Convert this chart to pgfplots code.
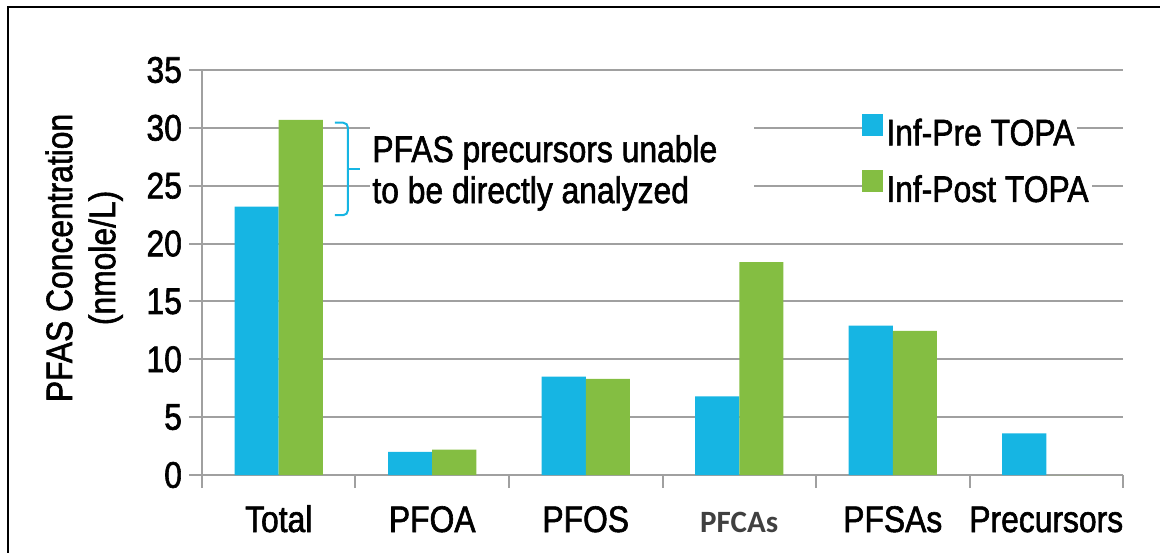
\documentclass[border=0pt]{standalone}
\usepackage{fontspec}
\setmainfont{Liberation Sans}[FakeStretch=0.86, FakeBold=1.6]
\newfontfamily\calfont{Carlito}
\usepackage{pgfplots}
\pgfplotsset{compat=1.18}

\definecolor{preblue}{RGB}{22,181,227}
\definecolor{postgreen}{RGB}{132,190,66}
\definecolor{gridgray}{RGB}{160,160,160}
\newcommand\cf{\fontsize{18.5pt}{21.5pt}\selectfont}

\begin{document}
\begin{tikzpicture}
\path[use as bounding box] (-101pt,-38.5pt) rectangle (479pt,237.5pt);
\draw[line width=1pt] (-97pt,-40pt) -- (-97pt,234pt) -- (480pt,234pt);
\begin{axis}[
    at={(0,0)}, anchor=south west,
    scale only axis,
    width=460.5pt, height=202.5pt,
    ybar=0pt, bar width=22pt,
    xmin=-0.5, xmax=5.5,
    ymin=0, ymax=35,
    ytick={0,5,...,35},
    xtick={-0.5,0.5,...,5.5},
    xticklabels={},
    extra x ticks={0,1,2,3,4,5},
    extra x tick labels={Total,PFOA,PFOS,{\calfont\bfseries\fontsize{15.5pt}{18pt}\selectfont\color{black!75}PFCAs},PFSAs,Precursors},
    extra x tick style={major tick length=0pt, tick style={draw=none},
        xticklabel style={anchor=base, yshift=-28.5pt}},
    axis x line*=bottom, axis y line*=left,
    axis line style={gridgray, line width=1pt},
    tick align=outside, major tick length=6.5pt,
    tick style={gridgray, line width=1pt},
    ymajorgrids, grid style={gridgray, line width=1pt},
    tick label style={font=\cf},
    /pgf/number format/assume math mode=true,
    ylabel={PFAS Concentration\\(nmole/L)},
    ylabel style={font=\cf, align=center, at={(axis description cs:-0.128,0.536)}, anchor=center},
    legend style={draw=none, fill=none, inner sep=0pt, font=\cf,
        at={(rel axis cs:0.7166,0.773)}, anchor=west,
        row sep=8.5pt, column sep=0pt,
        nodes={fill=white, inner xsep=1.5pt, inner ysep=0pt, text height=13.5pt, text depth=4pt}},
    legend cell align=left,
    legend image code/.code={\fill[#1] (0pt,0pt) rectangle (10.5pt,11pt);},
]
\addplot[fill=preblue, draw=none] coordinates {(0,23.2) (1,2.0) (2,8.5) (3,6.8) (4,12.9) (5,3.6)};
\addplot[fill=postgreen, draw=none] coordinates {(0,30.7) (1,2.2) (2,8.3) (3,18.4) (4,12.45) (5,0)};
\legend{Inf-Pre TOPA, Inf-Post TOPA}
\fill[white] (axis cs:0.594,24) rectangle (axis cs:3.096,32);
% brace beside the Total bars
\draw[preblue, line width=1pt, rounded corners=2.5pt]
    (axis cs:0.366,30.45) -- (axis cs:0.451,30.45) -- (axis cs:0.451,22.45) -- (axis cs:0.366,22.45);
\draw[preblue, line width=1pt] (axis cs:0.451,26.45) -- (axis cs:0.53,26.45);
\node[font=\cf, anchor=base west, inner sep=0pt] at (axis cs:0.6075,27.05) {PFAS precursors unable};
\node[font=\cf, anchor=base west, inner sep=0pt] at (axis cs:0.6075,23.5) {to be directly analyzed};
\node[font=\cf, anchor=base] at (axis description cs:0.485,1) [yshift=11pt] {Top Assay Influent};
\end{axis}
\end{tikzpicture}
\end{document}
